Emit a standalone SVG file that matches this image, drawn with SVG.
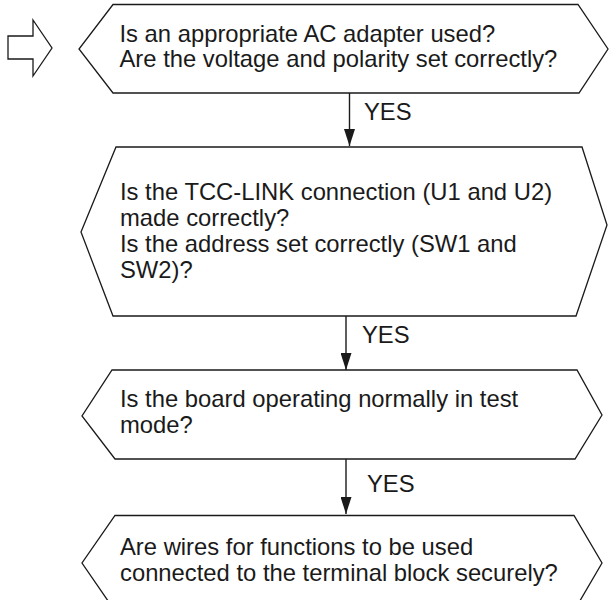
<svg xmlns="http://www.w3.org/2000/svg" width="610" height="600" viewBox="0 0 610 600">
  <defs>
    <style>
      .shape { fill: #ffffff; stroke: #1a1a1a; stroke-width: 1.3; stroke-linejoin: miter; }
      .label { font-family: "Liberation Sans", Arial, sans-serif; font-size: 23.8px; fill: #1a1a1a; }
      .link { stroke: #1a1a1a; stroke-width: 1.4; fill: none; }
    </style>
    <!-- filled arrowhead, tip at the end of the line -->
    <marker id="head" viewBox="0 0 17 11" refX="17" refY="5.5" markerWidth="17" markerHeight="11" markerUnits="userSpaceOnUse" orient="auto">
      <path d="M0,0 L17,5.5 L0,11 Z" fill="#1a1a1a"/>
    </marker>
  </defs>
  <rect width="610" height="600" fill="#ffffff"/>

  <!-- entry arrow -->
  <g id="start-arrow">
    <polygon class="shape" points="8,36 33,36 33,20 52,48 33,76 33,59 8,59"/>
  </g>

  <g id="check-adapter">
    <polygon class="shape" points="113,4.5 578,4.5 608,49 579,93 113,93 79,49"/>
    <text class="label" x="119.5" y="42">Is an appropriate AC adapter used?</text>
    <text class="label" x="119.5" y="67">Are the voltage and polarity set correctly?</text>
  </g>

  <g id="check-link">
    <polygon class="shape" points="116,147 582,147 607,225 576,316 113,316 81,232"/>
    <text class="label" x="120" y="200">Is the TCC-LINK connection (U1 and U2)</text>
    <text class="label" x="120" y="226">made correctly?</text>
    <text class="label" x="120" y="252">Is the address set correctly (SW1 and</text>
    <text class="label" x="120" y="278">SW2)?</text>
  </g>

  <g id="check-test-mode">
    <polygon class="shape" points="112,370 577,370 602,415 575,459 115,459 82,416"/>
    <text class="label" x="120" y="407">Is the board operating normally in test</text>
    <text class="label" x="120" y="433">mode?</text>
  </g>

  <g id="check-wiring">
    <polygon class="shape" points="115,515.5 574,515.5 602,563 574,611 115,611 82,563"/>
    <text class="label" x="120" y="555">Are wires for functions to be used</text>
    <text class="label" x="120" y="581">connected to the terminal block securely?</text>
  </g>

  <g id="connectors">
    <line class="link" x1="349.5" y1="93" x2="349.5" y2="146" marker-end="url(#head)"/>
    <text class="label" x="364" y="120">YES</text>
    <line class="link" x1="346" y1="316" x2="346" y2="370" marker-end="url(#head)"/>
    <text class="label" x="362" y="343">YES</text>
    <line class="link" x1="346" y1="459" x2="346" y2="514" marker-end="url(#head)"/>
    <text class="label" x="367" y="492">YES</text>
  </g>
</svg>
